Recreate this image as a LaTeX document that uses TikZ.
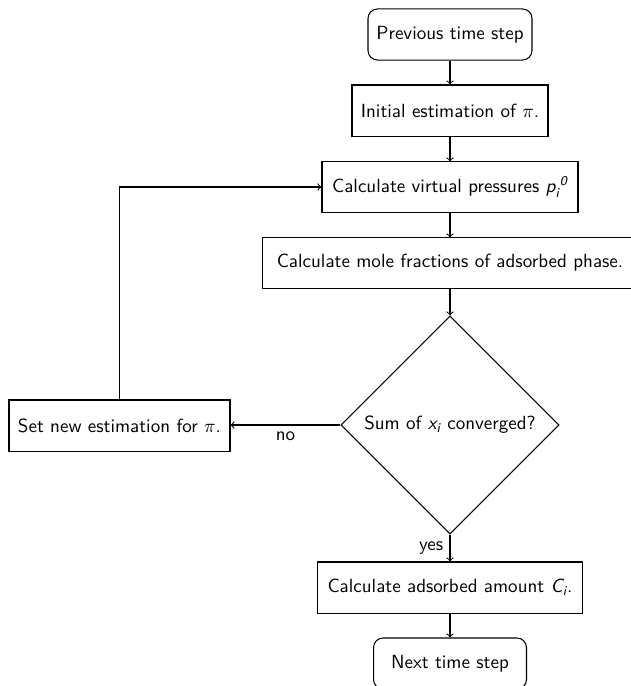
\documentclass[tikz,border=0pt]{standalone}
\usepackage{amstext}
\usetikzlibrary{shapes.geometric}
\renewcommand{\familydefault}{\sfdefault}
\newcommand{\sv}[1]{\textsl{#1}}
\begin{document}
\begin{tikzpicture}[x=0.525pt,y=-0.525pt,line width=0.55pt,
  box/.style={draw,rectangle,minimum height=26.8pt,inner sep=3pt,font=\sffamily},
  rbox/.style={box,rounded corners=5pt},
  dec/.style={draw,diamond,aspect=1,minimum width=114.5pt,minimum height=114.5pt,inner sep=1pt,font=\sffamily},
  arr/.style={->},
  lbl/.style={font=\sffamily}]
\useasboundingbox (0,0) rectangle (631,686);
\node[rbox,minimum width=86.1pt] (prev) at (450,34.5) {Previous time step};
\node[box,minimum width=102.9pt] (init) at (450,110.5) {Initial estimation of $\pi$.};
\node[box,minimum width=134.4pt,minimum height=26.3pt] (virt) at (450,187) {Calculate virtual pressures $\sv{p}_{\sv{i}}{}^{\sv{0}}$};
\node[box,minimum width=196.4pt,minimum height=26.3pt] (mole) at (450,263) {Calculate mole fractions of adsorbed phase.};
\node[dec] (conv) at (450,425) {Sum of $\sv{x}_{\sv{i}}$ converged?};
\node[box,minimum width=116pt] (setn) at (119.5,425.5) {Set new estimation for $\pi$.};
\node[box,minimum width=139.1pt] (ads) at (450,587.5) {Calculate adsorbed amount $\sv{C}_{\sv{i}}$.};
\node[rbox,minimum width=80.3pt] (next) at (450,663.5) {Next time step};
\draw[arr] (prev) -- (init);
\draw[arr] (init) -- (virt);
\draw[arr] (virt) -- (mole);
\draw[arr] (mole) -- (conv);
\draw[arr] (conv.west) -- node[lbl,below] {no} (setn.east |- conv.west);
\draw[arr] (conv) -- node[lbl,left] {yes} (ads);
\draw[arr] (ads) -- (next);
\draw[arr] (setn.north) |- (virt.west);
\end{tikzpicture}
\end{document}
